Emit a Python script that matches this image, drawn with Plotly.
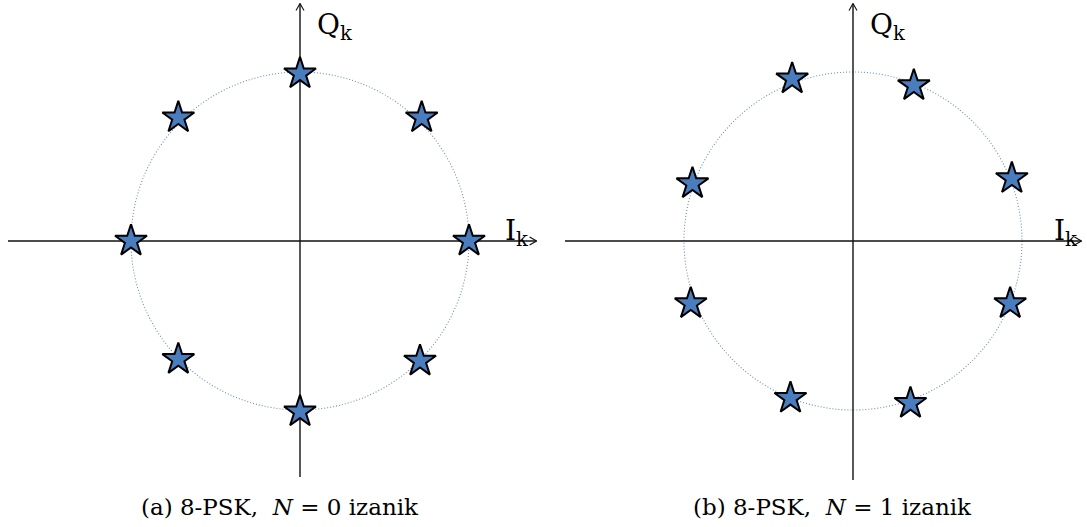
import plotly.graph_objects as go

# 8-PSK constellation points (in-phase / quadrature), unit circle
i_n0 = [0.00, 0.72, 1.00, 0.71, 0.00, -0.72, -1.00, -0.72]
q_n0 = [0.99, 0.73, 0.00, -0.71, -1.01, -0.70, 0.00, 0.73]

i_n1 = [-0.36, 0.36, 0.94, 0.93, 0.34, -0.37, -0.96, -0.95]
q_n1 = [0.96, 0.92, 0.37, -0.37, -0.96, -0.93, -0.37, 0.34]

captions = ["(a) 8-PSK,  <i>N</i> = 0 izanik", "(b) 8-PSK,  <i>N</i> = 1 izanik"]

W, H = 1087, 527
UNIT = 169.0           # pixels per unit radius
CENTERS = [(300, 241), (853, 241)]
DOMAINS = [(0.0, 0.5), (0.5, 1.0)]
CAP_X = [280, 832]
CAP_Y = 507

STAR_FILL = "#4a7dbd"
CIRCLE_COL = "#6f8fb5"
AXIS_COL = "#111"
LABEL_FONT = "DejaVu Serif, Liberation Serif, serif"
CAP_FONT = "DejaVu Serif, Liberation Serif, serif"

fig = go.Figure()

panels = [(i_n0, q_n0), (i_n1, q_n1)]
h_ext = [(-1.728, 1.40), (-1.704, 1.352)]
v_ext = [(-1.396, 1.405), (-1.414, 1.405)]
I_LABEL_X = [1.20, 1.18]
HEAD_LEN = 7 / UNIT    # arrow head length
HEAD_HALF = 4 / UNIT   # arrow head half-width


def seg(xa, ya, x0, y0, x1, y1, width=1.4):
    fig.add_shape(type="line", xref=xa, yref=ya, x0=x0, y0=y0, x1=x1, y1=y1,
                  line=dict(color=AXIS_COL, width=width), layer="below")


for k, ((iv, qv), (cx, cy), dom) in enumerate(zip(panels, CENTERS, DOMAINS)):
    xa = "x" if k == 0 else "x2"
    ya = "y" if k == 0 else "y2"
    px0, px1 = dom[0] * W, dom[1] * W
    xr = [(px0 - cx) / UNIT, (px1 - cx) / UNIT]
    yr = [(cy - H) / UNIT, cy / UNIT]
    axkey = "" if k == 0 else "2"
    fig.update_layout(**{
        f"xaxis{axkey}": dict(domain=list(dom), range=xr, visible=False, fixedrange=True),
        f"yaxis{axkey}": dict(domain=[0, 1], range=yr, visible=False, fixedrange=True,
                              anchor=xa),
    })

    # dotted reference circle
    fig.add_shape(type="circle", xref=xa, yref=ya, x0=-1, y0=-1, x1=1, y1=1,
                  line=dict(color=CIRCLE_COL, width=1.1, dash="1px,2px"), layer="below")

    # I axis with open arrow head
    x_end = h_ext[k][1]
    seg(xa, ya, h_ext[k][0], 0, x_end, 0)
    seg(xa, ya, x_end - HEAD_LEN, HEAD_HALF, x_end, 0, 1.1)
    seg(xa, ya, x_end - HEAD_LEN, -HEAD_HALF, x_end, 0, 1.1)

    # Q axis with open arrow head
    y_end = v_ext[k][1]
    seg(xa, ya, 0, v_ext[k][0], 0, y_end)
    seg(xa, ya, -HEAD_HALF, y_end - HEAD_LEN, 0, y_end, 1.1)
    seg(xa, ya, HEAD_HALF, y_end - HEAD_LEN, 0, y_end, 1.1)

    fig.add_trace(go.Scatter(
        x=iv, y=qv, mode="markers", xaxis=xa, yaxis=ya, showlegend=False,
        marker=dict(symbol="star", size=24, color=STAR_FILL,
                    line=dict(color="#000", width=2)),
        hoverinfo="skip"))

    fig.add_annotation(x=0.09, y=1.27, xref=xa, yref=ya, text="Q<sub>k</sub>",
                       showarrow=False, xanchor="left", yanchor="middle",
                       font=dict(family=LABEL_FONT, size=28, color="#000"))
    fig.add_annotation(x=I_LABEL_X[k], y=0.05, xref=xa, yref=ya, text="I<sub>k</sub>",
                       showarrow=False, xanchor="left", yanchor="middle",
                       font=dict(family=LABEL_FONT, size=28, color="#000"))

    fig.add_annotation(x=CAP_X[k] / W, y=(H - CAP_Y) / H, xref="paper", yref="paper",
                       text=captions[k], showarrow=False, xanchor="center",
                       yanchor="middle", font=dict(family=CAP_FONT, size=23, color="#000"))

fig.update_layout(width=W, height=H, margin=dict(l=0, r=0, t=0, b=0),
                  plot_bgcolor="white", paper_bgcolor="white")

fig.write_html("out.html")
